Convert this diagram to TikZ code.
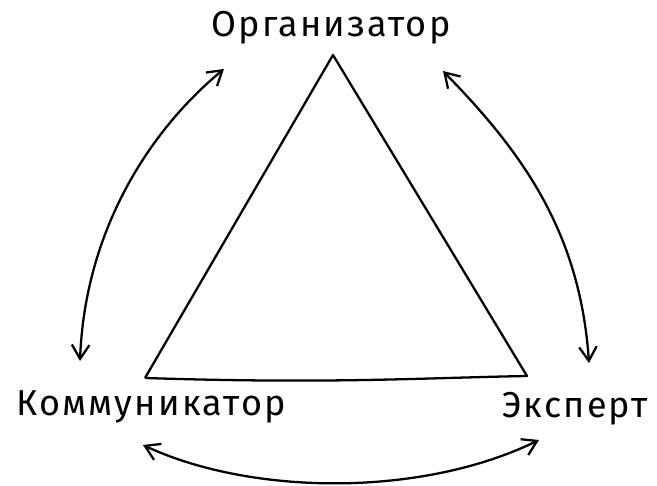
\documentclass[tikz,border=0pt]{standalone}
\usepackage{fontspec}
\setmainfont{Fira Sans}
\newfontfamily\handfont[LetterSpace=6]{Fira Sans}
\usetikzlibrary{arrows.meta}
\begin{document}
\begin{tikzpicture}[x=0.02cm,y=-0.02cm,
  lbl/.style={font=\handfont\fontsize{20.5}{24}\selectfont, inner sep=0pt},
  edge/.style={line width=1.3pt, line join=round},
  conn/.style={line width=1.3pt, {Straight Barb[length=8pt,width=10pt]}-{Straight Barb[length=8pt,width=10pt]}}]
\useasboundingbox (0,0) rectangle (657,486);
\coordinate (apex) at (333,55);
\coordinate (bl) at (145,378);
\coordinate (br) at (527,376);
\draw[edge] (bl) -- (apex) -- (br) .. controls (420,378) and (330,384) .. (bl);
\node[lbl] (org) at (331,28) {Организатор};
\node[lbl] (kom) at (151,407) {Коммуникатор};
\node[lbl] (eks) at (575,409) {Эксперт};
\coordinate (a1) at (224,69);
\coordinate (a2) at (80,361);
\coordinate (b1) at (443,71);
\coordinate (b2) at (589,363);
\coordinate (c1) at (143,445);
\coordinate (c2) at (539,440);
\draw[conn] (a1) .. controls (150,130) and (85,230) .. (a2);
\draw[conn] (b1) .. controls (520,150) and (580,230) .. (b2);
\draw[conn] (c1) .. controls (250,495) and (420,498) .. (c2);
\end{tikzpicture}
\end{document}
